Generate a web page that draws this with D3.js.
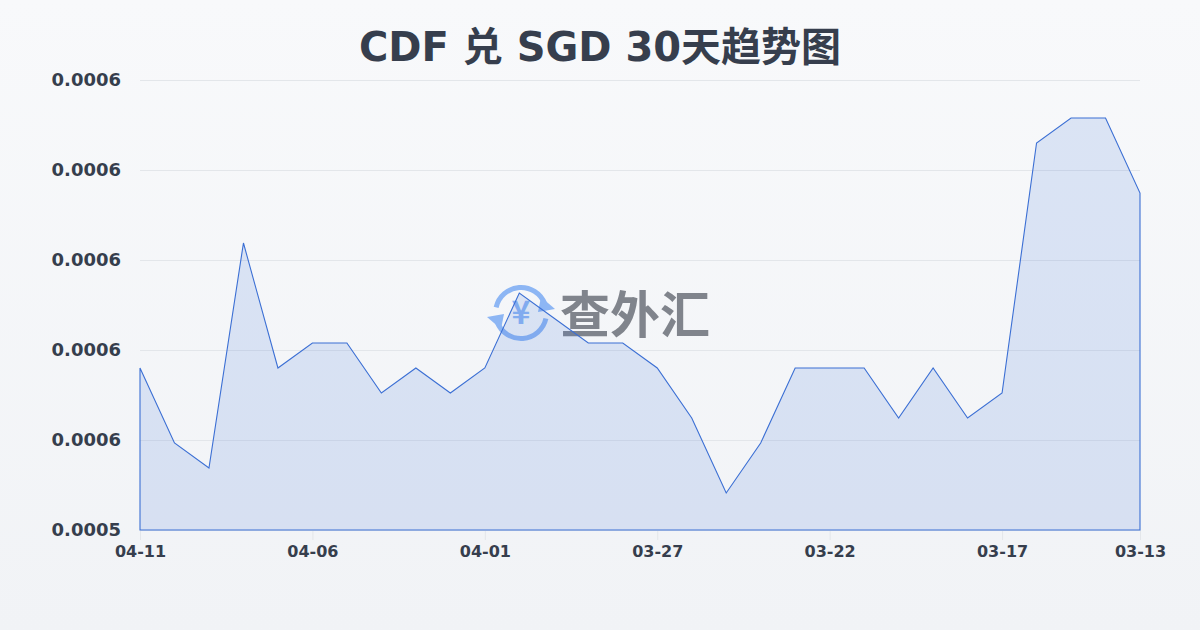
<!DOCTYPE html>
<html><head><meta charset="utf-8">
<script src="https://cdn.jsdelivr.net/npm/d3@7"></script>
<style>html,body{margin:0;padding:0;background:#f4f6f8;} svg{display:block}</style>
</head><body>
<svg id="c" width="1200" height="630"></svg>
<script>
const dates = ["04-11","04-10","04-09","04-08","04-07","04-06","04-05","04-04","04-03","04-02",
  "04-01","03-31","03-30","03-29","03-28","03-27","03-26","03-25","03-24","03-23",
  "03-22","03-21","03-20","03-19","03-18","03-17","03-16","03-15","03-14","03-13"];
const rates = [0.0005525,0.0005510,0.0005505,0.0005550,0.0005525,0.0005530,0.0005530,0.0005520,0.0005525,0.0005520,
  0.0005525,0.0005540,0.0005535,0.0005530,0.0005530,0.0005525,0.0005515,0.0005500,0.0005510,0.0005525,
  0.0005525,0.0005525,0.0005515,0.0005525,0.0005515,0.0005520,0.0005570,0.0005575,0.0005575,0.0005560];
const yDomain = [0.00054926, 0.00055826];
const yTickLabels = ["0.0005","0.0006","0.0006","0.0006","0.0006","0.0006"];
const xTickLabels = ["04-11","04-06","04-01","03-27","03-22","03-17","03-13"];
const titleText = "CDF 兑 SGD 30天趋势图";

const svg = d3.select("#c");
const W = 1200, H = 630;
const m = {left:140, right:60, top:80, bottom:100};
const defs = svg.append("defs");
const bg = defs.append("linearGradient").attr("id","bg").attr("x1",0).attr("y1",0).attr("x2",0).attr("y2",1);
bg.append("stop").attr("offset","0%").attr("stop-color","#f8f9fb");
bg.append("stop").attr("offset","100%").attr("stop-color","#f1f3f6");
svg.append("rect").attr("width",W).attr("height",H).attr("fill","url(#bg)");

const x = d3.scalePoint().domain(dates).range([m.left, W - m.right]);
const y = d3.scaleLinear().domain(yDomain).range([H - m.bottom, m.top]);
const yTicks = d3.range(yTickLabels.length).map(i => yDomain[0] + i*(yDomain[1]-yDomain[0])/(yTickLabels.length-1));

const font = "'DejaVu Sans','Noto Sans CJK SC',sans-serif";
const txtColor = "#363e4d";

// title
svg.append("text").attr("x", W/2).attr("y", 61).attr("text-anchor","middle")
  .attr("font-family",font).attr("font-weight",700)
  .attr("font-size",40).attr("fill",txtColor).text(titleText);

// gridlines
svg.append("g").selectAll("line").data(yTicks).join("line")
  .attr("x1", m.left).attr("x2", W - m.right)
  .attr("y1", d => Math.round(y(d))+0.5).attr("y2", d => Math.round(y(d))+0.5)
  .attr("stroke","#e3e6ea").attr("stroke-width",1);

// y axis
const yAxis = d3.axisLeft(y).tickValues(yTicks).tickSize(0).tickPadding(19)
  .tickFormat((d,i) => yTickLabels[i]);
const gy = svg.append("g").attr("transform",`translate(${m.left},0)`).call(yAxis);
gy.select(".domain").remove();
gy.selectAll("text").attr("font-family",font).attr("font-weight",700).attr("font-size",18).attr("fill",txtColor);

// x axis
const xAxis = d3.axisBottom(x).tickValues(xTickLabels).tickSize(10).tickPadding(6);
const gx = svg.append("g").attr("transform",`translate(0,${H - m.bottom})`).call(xAxis);
gx.select(".domain").remove();
gx.selectAll(".tick line").attr("stroke","#e3e6ea");
gx.selectAll("text").attr("font-family",font).attr("font-weight",700).attr("font-size",16).attr("fill",txtColor);

// watermark
const wm = svg.append("g").attr("transform","translate(521,313)");
const arc = d3.arc().innerRadius(23).outerRadius(28);
const iconColor = "#8db6f4";
wm.append("path").attr("d", arc({startAngle: -1.35, endAngle: 1.2})).attr("fill",iconColor);
wm.append("path").attr("d", arc({startAngle: 1.79, endAngle: 4.34})).attr("fill",iconColor);
wm.append("path").attr("d","M20,-16 L34,-4 L17,-1 Z").attr("fill",iconColor);
wm.append("path").attr("d","M-20,16 L-34,4 L-17,1 Z").attr("fill",iconColor);
wm.append("text").attr("x",0).attr("y",11).attr("text-anchor","middle")
  .attr("font-family","'Noto Sans CJK SC',sans-serif").attr("font-weight",700).attr("font-size",32)
  .attr("fill",iconColor).text("¥");
svg.append("text").attr("x",560).attr("y",333).attr("font-family","'Noto Sans CJK SC',sans-serif")
  .attr("font-weight",700).attr("font-size",50).attr("fill","#80848c").text("查外汇");

// area + line
const area = d3.area().x(d => x(d[0])).y0(y(yDomain[0])).y1(d => y(d[1]));
const pts = dates.map((d,i) => [d, rates[i]]);
svg.append("path").datum(pts).attr("d", d => area(d) )
  .attr("fill","rgba(59,111,212,0.15)").attr("stroke","#3b6fd4").attr("stroke-width",1.1)
  .attr("stroke-linejoin","miter");
</script>
</body></html>
